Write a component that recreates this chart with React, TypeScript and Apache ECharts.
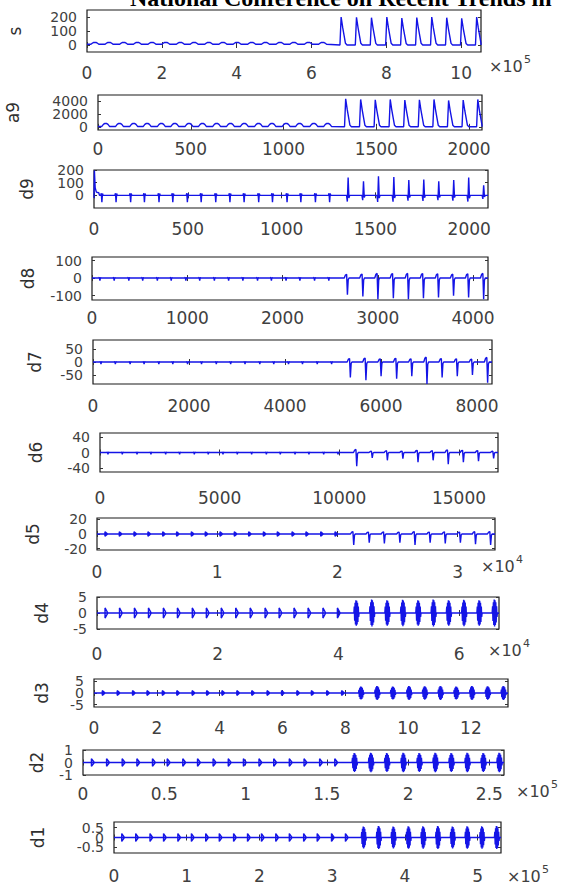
import React, { useEffect, useRef } from "react";
import * as echarts from "echarts";

// ---------- data ----------
const plotNames = ["s", "a9", "d9", "d8", "d7", "d6", "d5", "d4", "d3", "d2", "d1"];
// record length of each panel, in that panel's x units
const xMaxValues = [10.53, 2070, 2100, 4157, 8312, 16630, 3.31, 6.66, 13.18, 2.59, 5.32];
const xTickValues = [
  [0, 2, 4, 6, 8, 10],
  [0, 500, 1000, 1500, 2000],
  [0, 500, 1000, 1500, 2000],
  [0, 1000, 2000, 3000, 4000],
  [0, 2000, 4000, 6000, 8000],
  [0, 5000, 10000, 15000],
  [0, 1, 2, 3],
  [0, 2, 4, 6],
  [0, 2, 4, 6, 8, 10, 12],
  [0, 0.5, 1, 1.5, 2, 2.5],
  [0, 1, 2, 3, 4, 5],
];
const xExponents = ["5", "", "", "", "", "", "4", "4", "", "5", "5"];
const yMinValues = [-50, -500, -100, -125, -85, -50, -22, -5, -6, -1, -0.78];
const yMaxValues = [250, 5000, 200, 120, 85, 50, 22, 5, 6, 1, 0.78];
const yTickValues = [
  [0, 100, 200],
  [0, 2000, 4000],
  [0, 100, 200],
  [-100, 0, 100],
  [-50, 0, 50],
  [-40, 0, 40],
  [-20, 0, 20],
  [-5, 0, 5],
  [-5, 0, 5],
  [-1, 0, 1],
  [-0.5, 0, 0.5],
];

// event positions (fraction of the record length)
const normalBeats = [0.02, 0.056, 0.093, 0.128, 0.165, 0.2, 0.237, 0.272, 0.309, 0.345, 0.381, 0.418, 0.453, 0.49, 0.525, 0.562, 0.598];
const ectopicBeats = [0.645, 0.684, 0.722, 0.761, 0.799, 0.837, 0.875, 0.913, 0.951, 0.989];

// per panel levels
const baselines = [5, 60, 0, 0, 0, 0, 0, 0, 0, 0, 0];
const normalAmp = [13, 450, 55, 15, 8, 5, 3, 1.6, 1.0, 0.3, 0.2];
const ectopicAmp = [
  [200, 198, 195, 200, 192, 196, 200, 195, 190, 200],
  [4400, 4300, 4250, 4300, 4200, 4250, 4300, 4150, 4200, 4300],
  [140, 110, 150, 145, 120, 125, 110, 120, 140, 80],
  [95, 105, 120, 115, 120, 115, 110, 100, 110, 120],
  [60, 70, 55, 65, 55, 85, 60, 55, 50, 80],
  [35, 14, 20, 16, 25, 20, 30, 25, 22, 15],
  [15, 12, 13, 12, 15, 12, 13, 12, 14, 15],
  [4, 4.2, 4, 4.1, 4, 4.2, 4, 4.1, 4, 4.2],
  [2.8, 3, 2.8, 3, 2.9, 3, 2.8, 3, 2.9, 3],
  [0.75, 0.78, 0.75, 0.77, 0.75, 0.78, 0.75, 0.77, 0.76, 0.78],
  [0.55, 0.58, 0.55, 0.57, 0.56, 0.58, 0.55, 0.57, 0.56, 0.58],
];
const normalKind = ["hump", "hump", "tick", "tick", "tick", "tick", "arrow", "arrow", "arrow", "arrow", "arrow"];
const ectopicKind = ["peak", "peak", "spikeUp", "hookDown", "hookDown", "hookDown", "hookDown", "burst", "burst", "burst", "burst"];

// waveform shapes: [dx as fraction of record, relative level]
const shapes: Record<string, number[][]> = {
  hump: [[-0.01, 0], [-0.006, 0.7], [-0.003, 1], [0.003, 1], [0.006, 0.7], [0.01, 0]],
  peak: [[-0.003, 0], [0, 1], [0.004, 0.62], [0.011, 0.06], [0.015, 0]],
  tick: [[-0.003, 0], [-0.0015, 0.3], [0, -1], [0.0015, 0.25], [0.003, 0]],
  spikeUp: [[-0.004, 0], [-0.002, -0.35], [0, 1], [0.002, -0.15], [0.004, 0]],
  hookDown: [[-0.008, 0], [-0.005, 0.18], [-0.002, 0.22], [0, -1], [0.002, -0.1], [0.004, 0]],
  arrow: [[0, 0], [0, 1], [0.007, 0], [0, -1], [0, 0], [0.008, 0]],
  burst: [[-0.006, 0], [-0.005, 0.5], [-0.004, -0.6], [-0.003, 0.8], [-0.002, -0.9], [-0.001, 1], [0, -1], [0.001, 0.95], [0.002, -0.9], [0.003, 0.8], [0.004, -0.7], [0.005, 0.5], [0.006, -0.3], [0.007, 0]],
};
const d9Start = [[0, -20], [0.001, 195], [0.003, 60], [0.006, 25], [0.012, 20], [0.014, 0]];

// ---------- layout ----------
const boxes = [
  [87, 10, 481, 52],
  [98, 95, 482, 130],
  [94, 170, 488, 208],
  [92, 257, 488, 300],
  [93, 340, 492, 384],
  [100, 433, 498, 472],
  [97, 518, 495, 550],
  [97, 597, 499, 629],
  [94, 679, 508, 707],
  [83, 750, 504, 775],
  [114, 822, 501, 853],
];
const xLabelGap = [20, 18, 20, 17, 21, 25, 21, 24, 20, 18, 22];
const nameX = [15, 13, 27, 28, 35, 36, 33, 42, 42, 37, 38];
const expPos: Record<number, number[]> = { 0: [489, 66], 6: [481, 566], 7: [488, 650], 9: [516, 791], 10: [507, 876] };

const FONT = '"DejaVu Sans", Arial, sans-serif';
const LABEL = "#404040";

function buildSeries(p: number) {
  const xMax = xMaxValues[p];
  const base = baselines[p];
  const pts: number[][] = [];
  const push = (frac: number, y: number) => pts.push([Math.min(frac, 1) * xMax, y]);
  push(0, base);
  if (p === 2) d9Start.forEach(([dx, v]) => push(dx, base + v));
  normalBeats.forEach((pos) => shapes[normalKind[p]].forEach(([dx, v]) => push(pos + dx, base + v * normalAmp[p])));
  const eBase = ectopicKind[p] === "peak" ? 0 : base;
  ectopicBeats.forEach((pos, i) =>
    shapes[ectopicKind[p]].forEach(([dx, v]) => push(pos + dx, eBase + v * ectopicAmp[p][i]))
  );
  push(1, eBase);
  return pts;
}

export default function App() {
  const ref = useRef<HTMLDivElement>(null);
  useEffect(() => {
    if (!ref.current) return;
    const chart = echarts.init(ref.current, undefined, { renderer: "svg" });
    const grid: any[] = [];
    const xAxis: any[] = [];
    const yAxis: any[] = [];
    const series: any[] = [];
    const graphic: any[] = [];
    plotNames.forEach((name, p) => {
      const [l, t, r, b] = boxes[p];
      grid.push({ left: l, top: t, width: r - l, height: b - t, show: true, borderColor: "#1a1a1a", borderWidth: 1.2, backgroundColor: "transparent" });
      const tickStyle = { show: true, inside: true, length: 3, lineStyle: { color: "#333", width: 1 } };
      const yLabelBase = { showMinLabel: true, showMaxLabel: true, hideOverlap: false, formatter: (v: number) => String(v), fontSize: 14, fontFamily: FONT, color: LABEL, margin: 10 };
      const yt = yTickValues[p];
      xAxis.push({
        type: "value", gridIndex: p, position: "bottom", min: 0, max: xMaxValues[p],
        axisLine: { show: false }, splitLine: { show: false },
        axisTick: { ...tickStyle, customValues: xTickValues[p] },
        axisLabel: { customValues: xTickValues[p], showMinLabel: true, showMaxLabel: true, formatter: (v: number) => String(v), fontSize: 17, fontFamily: FONT, color: LABEL, margin: xLabelGap[p] - 8 },
      });
      xAxis.push({
        type: "value", gridIndex: p, position: "top", min: 0, max: xMaxValues[p],
        axisLine: { show: false }, splitLine: { show: false },
        axisTick: { ...tickStyle, customValues: xTickValues[p] }, axisLabel: { show: false },
      });
      const yIndex = yAxis.length;
      // outer tick labels
      yAxis.push({
        type: "value", gridIndex: p, position: "left", min: yMinValues[p], max: yMaxValues[p],
        axisLine: { show: false }, splitLine: { show: false },
        axisTick: { ...tickStyle, customValues: yt },
        axisLabel: { ...yLabelBase, customValues: [yt[0], yt[yt.length - 1]] },
      });
      // middle tick label (own axis, so crowded labels stay visible as in the reference)
      yAxis.push({
        type: "value", gridIndex: p, position: "left", offset: 0, min: yMinValues[p], max: yMaxValues[p],
        axisLine: { show: false }, splitLine: { show: false }, axisTick: { show: false },
        axisLabel: { ...yLabelBase, customValues: yt.slice(1, yt.length - 1) },
      });
      yAxis.push({
        type: "value", gridIndex: p, position: "right", min: yMinValues[p], max: yMaxValues[p],
        axisLine: { show: false }, splitLine: { show: false },
        axisTick: { ...tickStyle, customValues: yt }, axisLabel: { show: false },
      });
      series.push({
        type: "line", xAxisIndex: 2 * p, yAxisIndex: yIndex, data: buildSeries(p),
        showSymbol: false, symbol: "none", silent: true, clip: true,
        lineStyle: { color: "#1414e6", width: 1.4 },
      });
      graphic.push({
        type: "text", x: nameX[p], y: (t + b) / 2, rotation: Math.PI / 2,
        style: { text: name, font: `17px ${FONT}`, fill: "#303030", align: "center", verticalAlign: "middle" },
      });
      if (xExponents[p]) {
        const [ex, ey] = expPos[p];
        graphic.push({ type: "text", x: ex, y: ey, style: { text: "×10", font: `16px ${FONT}`, fill: LABEL, align: "left", verticalAlign: "middle" } });
        graphic.push({ type: "text", x: ex + 35, y: ey - 7, style: { text: xExponents[p], font: `11px ${FONT}`, fill: LABEL, align: "left", verticalAlign: "middle" } });
      }
    });
    graphic.push({
      type: "text", x: 130, y: 10,
      style: { text: "National Conference on Recent Trends in", font: 'bold 24px "Liberation Serif", serif', fill: "#000", align: "left", verticalAlign: "bottom" },
    });
    chart.setOption({ animation: false, backgroundColor: "#fff", grid, xAxis, yAxis, series, graphic });
    return () => chart.dispose();
  }, []);
  return <div ref={ref} style={{ position: "absolute", left: 0, top: 0, width: 561, height: 884 }} />;
}
